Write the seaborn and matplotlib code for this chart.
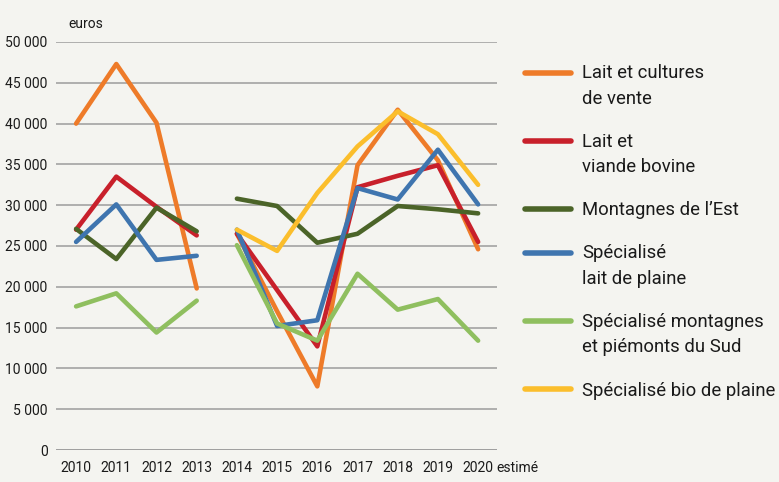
import numpy as np
import pandas as pd
import seaborn as sns
import matplotlib.pyplot as plt
from matplotlib.legend_handler import HandlerLine2D

# Revenu disponible par UTH familiale, par systeme laitier
years = ["2010", "2011", "2012", "2013", "2014", "2015", "2016", "2017", "2018", "2019", "2020"]

lait_cultures = [40000, 47300, 40100, 19800, 26500, 17000, 7800, 34900, 41700, 35500, 24600]
lait_viande = [27000, 33500, 29800, 26300, 26500, 19600, 12700, 32200, 33600, 34900, 25500]
montagnes_est = [27100, 23400, 29700, 26800, 30800, 29900, 25400, 26500, 29900, 29500, 29000]
lait_plaine = [25500, 30100, 23300, 23800, 27000, 15200, 15900, 32100, 30700, 36800, 30100]
montagnes_sud = [17600, 19200, 14400, 18300, 25100, 15500, 13400, 21600, 17200, 18500, 13400]
bio_plaine = [np.nan, np.nan, np.nan, np.nan, 27000, 24400, 31500, 37200, 41500, 38700, 32500]

series = {
    "Lait et cultures de vente": lait_cultures,
    "Lait et viande bovine": lait_viande,
    "Montagnes de l'Est": montagnes_est,
    "Spécialisé lait de plaine": lait_plaine,
    "Spécialisé montagnes et piémonts du Sud": montagnes_sud,
    "Spécialisé bio de plaine": bio_plaine,
}
legend_labels = [
    "Lait et cultures\nde vente",
    "Lait et\nviande bovine",
    "Montagnes de l\u2019Est",
    "Spécialisé\nlait de plaine",
    "Spécialisé montagnes\net piémonts du Sud",
    "Spécialisé bio de plaine",
]
colors = ["#ee7b29", "#c8202b", "#4b6428", "#3f75af", "#8fbf5f", "#fbbe2c"]

# long format, with a break in the series between 2013 and 2014
rows = []
for name, vals in series.items():
    for i, v in enumerate(vals):
        if not np.isnan(v):
            rows.append({"pos": i, "valeur": v, "systeme": name,
                         "periode": "avant" if i < 4 else "apres"})
df = pd.DataFrame(rows)

sns.set_theme(style="white")
plt.rcParams["font.family"] = ["Roboto", "DejaVu Sans"]
tick_size = 10

bg = "#f4f4f0"
fig = plt.figure(figsize=(7.79, 4.82), dpi=100, facecolor=bg)
ax = fig.add_axes([56 / 779, 1 - 450 / 482, 441 / 779, 408 / 482])
ax.set_facecolor(bg)

sns.lineplot(data=df, x="pos", y="valeur", hue="systeme", units="periode",
             estimator=None, hue_order=list(series.keys()),
             palette=dict(zip(series.keys(), colors)), linewidth=3.3,
             solid_capstyle="round", ax=ax)

handles, labels = ax.get_legend_handles_labels()
ax.get_legend().remove()

ax.set_xlim(-0.5, 10.47)
ax.set_ylim(0, 50000)
ax.set_yticks(range(0, 50001, 5000))
ax.set_yticklabels([f"{v:,}".replace(",", " ") for v in range(0, 50001, 5000)])
ax.set_xticks(range(len(years)))
ax.set_xticklabels(years)
ax.set_xlabel("")
ax.set_ylabel("")

ax.grid(axis="y", color="#a3a3a3", linewidth=1.2)
ax.set_axisbelow(True)
for s in ax.spines.values():
    s.set_visible(False)
ax.axhline(0, color="#8a8a8a", linewidth=2, zorder=0.5)

ax.tick_params(axis="both", length=0, labelsize=tick_size, colors="#1a1a1a")
ax.tick_params(axis="y", pad=6)
ax.tick_params(axis="x", pad=8)

ax.annotate("euros", xy=(0, 1), xycoords="axes fraction", xytext=(9, 8),
            textcoords="offset points", ha="left", va="bottom",
            fontsize=tick_size, color="#1a1a1a")
ax.annotate("estimé", xy=(10, 0), xycoords=("data", "axes fraction"),
            xytext=(13, -8), textcoords="offset points", ha="left", va="top",
            fontsize=tick_size, color="#1a1a1a")


# legend line sits on the first line of a two-line label
class FirstLine(HandlerLine2D):
    def __init__(self, shift, **kw):
        super().__init__(**kw)
        self.shift = shift

    def create_artists(self, legend, orig_handle, xdescent, ydescent,
                       width, height, fontsize, trans):
        return super().create_artists(legend, orig_handle, xdescent,
                                      ydescent - 2 * self.shift, width,
                                      height, fontsize, trans)


hmap = {h: FirstLine(9.9 if "\n" in lab else 0) for h, lab in zip(handles, legend_labels)}
leg = fig.legend(handles, legend_labels, loc="upper left", handler_map=hmap,
                 bbox_to_anchor=(516 / 779, 1 - 55 / 482), frameon=False,
                 fontsize=13.3, handlelength=2.5, handletextpad=0.6,
                 labelspacing=1.36, borderpad=0, labelcolor="#1a1a1a")
for h in leg.legend_handles:
    h.set_linewidth(4)
    h.set_solid_capstyle("round")
for t in leg.get_texts():
    t.set_linespacing(1.53)

fig.savefig("out.png", dpi=100, facecolor=bg)
